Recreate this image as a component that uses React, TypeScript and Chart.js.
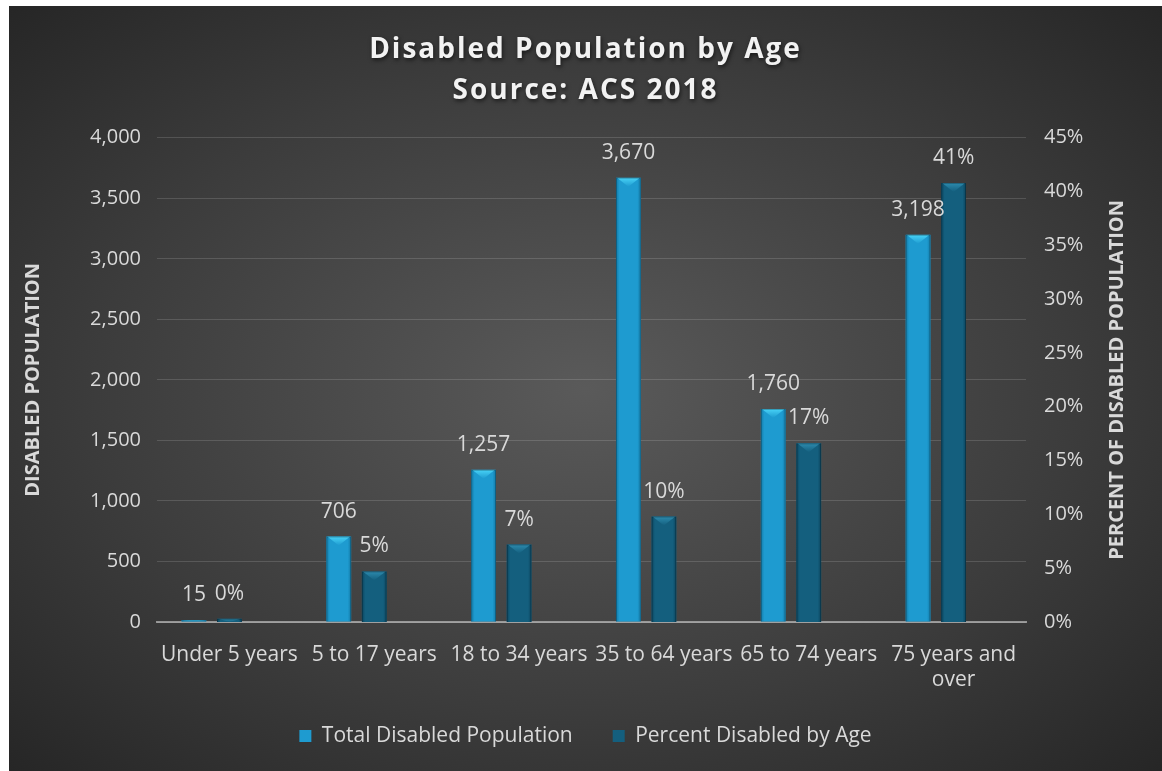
import React, { useEffect, useRef } from 'react';
import { Chart, registerables } from 'chart.js';

Chart.register(...registerables);

// ---- data ----
const categories = ['Under 5 years', '5 to 17 years', '18 to 34 years', '35 to 64 years', '65 to 74 years', '75 years and over'];
const totalDisabled = [15, 706, 1257, 3670, 1760, 3198];
const percentDisabled = [0.3, 4.7, 7.2, 9.8, 16.6, 40.8];
const spacer = [null, null, null, null, null, null];
const seriesNames = ['Total Disabled Population', 'Percent Disabled by Age'];
const titleLines = ['Disabled Population by Age', 'Source: ACS 2018'];
const leftAxisTitle = 'DISABLED POPULATION';
const rightAxisTitle = 'PERCENT OF DISABLED POPULATION';
const leftMax = 4000;
const leftStep = 500;
const rightMax = 45;
const rightStep = 5;

// ---- style ----
const FONT = "'Open Sans', 'DejaVu Sans', sans-serif";
const TEXT = '#d9d9d9';
const LIGHT = { body: '#1e9bd0', edge: '#137aa6', top: '#48d3f7' };
const DARK = { body: '#145f7e', edge: '#0b445d', top: '#2d8bae' };

function wrapLabel(s: string, maxChars = 14): string | string[] {
  const words = s.split(' ');
  const lines: string[] = [];
  let cur = '';
  for (const w of words) {
    const next = cur ? cur + ' ' + w : w;
    if (next.length > maxChars && cur) {
      lines.push(cur);
      cur = w;
    } else cur = next;
  }
  if (cur) lines.push(cur);
  return lines.length > 1 ? lines : lines[0];
}

const bevelPlugin = {
  id: 'bevel',
  afterDatasetsDraw(chart: any) {
    const ctx = chart.ctx;
    [0, 1].forEach((di) => {
      const meta = chart.getDatasetMeta(di);
      const pal = di === 0 ? LIGHT : DARK;
      meta.data.forEach((el: any) => {
        const { x, y, base, width } = el.getProps(['x', 'y', 'base', 'width'], true);
        if (y == null || isNaN(y)) return;
        const left = x - width / 2;
        const right = x + width / 2;
        const top = Math.min(y, base);
        const bottom = Math.max(y, base);
        const h = bottom - top;
        if (h <= 0) return;
        ctx.save();
        ctx.beginPath();
        ctx.rect(left, top, width, h);
        ctx.clip();
        const g = ctx.createLinearGradient(left, 0, right, 0);
        g.addColorStop(0, pal.edge);
        g.addColorStop(0.14, pal.body);
        g.addColorStop(0.86, pal.body);
        g.addColorStop(1, pal.edge);
        ctx.fillStyle = g;
        ctx.fillRect(left, top, width, h);
        const bh = Math.min(width * 0.36, h);
        const tg = ctx.createLinearGradient(0, top, 0, top + bh);
        tg.addColorStop(0, pal.top);
        tg.addColorStop(1, pal.body);
        ctx.fillStyle = tg;
        ctx.beginPath();
        ctx.moveTo(left + 1, top);
        ctx.lineTo(right - 1, top);
        ctx.lineTo(x, top + bh);
        ctx.closePath();
        ctx.fill();
        ctx.strokeStyle = 'rgba(0,0,0,0.25)';
        ctx.lineWidth = 1;
        ctx.strokeRect(left + 0.5, top + 0.5, width - 1, h);
        ctx.restore();
      });
    });
  },
};

const labelPlugin = {
  id: 'valueLabels',
  afterDatasetsDraw(chart: any) {
    const ctx = chart.ctx;
    ctx.save();
    ctx.font = `21px ${FONT}`;
    ctx.fillStyle = TEXT;
    ctx.textAlign = 'center';
    ctx.textBaseline = 'middle';
    [0, 1].forEach((di) => {
      const meta = chart.getDatasetMeta(di);
      const values = chart.data.datasets[di].data;
      meta.data.forEach((el: any, i: number) => {
        const v = values[i];
        if (v == null) return;
        const txt = di === 0 ? Number(v).toLocaleString('en-US') : Math.round(Number(v)) + '%';
        ctx.fillText(txt, el.x, el.y - 25);
      });
    });
    ctx.restore();
  },
};

const rightTitlePlugin = {
  id: 'rightTitle',
  afterDraw(chart: any) {
    const ctx = chart.ctx;
    const s = chart.scales.y1;
    const ca = chart.chartArea;
    ctx.save();
    ctx.translate(s.right - 45, (ca.top + ca.bottom) / 2);
    ctx.rotate(-Math.PI / 2);
    ctx.font = `bold 20px ${FONT}`;
    ctx.fillStyle = TEXT;
    ctx.textAlign = 'center';
    ctx.textBaseline = 'middle';
    ctx.fillText(rightAxisTitle, 0, 0);
    ctx.restore();
  },
};

const titleFxPlugin = {
  id: 'titleFx',
  beforeDraw(chart: any) {
    const tb = chart.titleBlock;
    if (tb && !tb.__fx) {
      const orig = tb.draw.bind(tb);
      tb.draw = (...args: any[]) => {
        const c = chart.ctx;
        c.save();
        c.letterSpacing = '2px';
        c.shadowColor = 'rgba(0,0,0,0.6)';
        c.shadowBlur = 4;
        c.shadowOffsetX = 1;
        c.shadowOffsetY = 2;
        orig(...args);
        c.restore();
      };
      tb.__fx = true;
    }
  },
};

export default function App() {
  const ref = useRef<HTMLCanvasElement | null>(null);

  useEffect(() => {
    if (!ref.current) return;
    const chart = new Chart(ref.current, {
      type: 'bar',
      data: {
        labels: categories,
        datasets: [
          {
            label: seriesNames[0],
            data: totalDisabled,
            yAxisID: 'y',
            backgroundColor: LIGHT.body,
            borderWidth: 0,
            categoryPercentage: 0.7355,
            barPercentage: 0.7,
          },
          {
            label: seriesNames[1],
            data: percentDisabled,
            yAxisID: 'y1',
            backgroundColor: DARK.body,
            borderWidth: 0,
            categoryPercentage: 0.7355,
            barPercentage: 0.7,
          },
          {
            label: '',
            data: spacer,
            yAxisID: 'y',
            backgroundColor: 'rgba(0,0,0,0)',
            categoryPercentage: 0.7355,
            barPercentage: 0.7,
          },
        ],
      },
      options: {
        animation: false,
        responsive: true,
        maintainAspectRatio: false,
        layout: { padding: { left: 0, right: 0, top: 0, bottom: 14.5 } },
        plugins: {
          title: {
            display: true,
            text: titleLines,
            color: '#f2f2f2',
            font: { family: FONT, size: 28, weight: 'bold', lineHeight: 1.46 },
            padding: { top: 24, bottom: 26 },
          },
          legend: {
            position: 'bottom',
            labels: {
              color: TEXT,
              font: { family: FONT, size: 21 },
              boxWidth: 12,
              boxHeight: 12,
              padding: 40,
              filter: (item: any) => item.datasetIndex !== 2,
            },
          },
          tooltip: { enabled: false },
        },
        scales: {
          x: {
            grid: { display: false, drawTicks: false },
            border: { display: true, color: 'rgba(200,200,200,0.65)', width: 2 },
            ticks: {
              color: TEXT,
              font: { family: FONT, size: 21, lineHeight: 1.2 },
              padding: 20,
              maxRotation: 0,
              autoSkip: false,
              callback: (_v: any, i: number) => wrapLabel(categories[i]),
            },
            afterFit: (s: any) => {
              s.height = 63.5;
              s._computeLabelArea = () => undefined;
            },
          },
          y: {
            position: 'left',
            min: 0,
            max: leftMax,
            grid: { color: 'rgba(255,255,255,0.14)', drawTicks: false },
            border: { display: false },
            ticks: {
              stepSize: leftStep,
              color: TEXT,
              font: { family: FONT, size: 20 },
              padding: 16,
              callback: (v: any) => Number(v).toLocaleString('en-US'),
            },
            title: {
              display: true,
              text: leftAxisTitle,
              color: TEXT,
              font: { family: FONT, size: 20, weight: 'bold' },
              padding: { top: 12, bottom: 0 },
            },
            afterFit: (s: any) => {
              s.width = 148;
            },
          },
          y1: {
            position: 'right',
            min: 0,
            max: rightMax,
            grid: { display: false, drawTicks: false },
            border: { display: false },
            ticks: {
              stepSize: rightStep,
              color: TEXT,
              font: { family: FONT, size: 20 },
              padding: 18,
              callback: (v: any) => v + '%',
            },
            afterFit: (s: any) => {
              s.width = 136;
            },
          },
        },
      },
      plugins: [titleFxPlugin, bevelPlugin, labelPlugin, rightTitlePlugin],
    } as any);
    return () => chart.destroy();
  }, []);

  return (
    <div
      style={{
        position: 'fixed',
        left: 9,
        top: 6,
        width: 1153,
        height: 765,
        background: 'radial-gradient(ellipse farthest-corner at 50% 50%, #5a5a5a 0%, #3c3c3c 60%, #262626 100%)',
      }}
    >
      <canvas ref={ref} />
    </div>
  );
}
